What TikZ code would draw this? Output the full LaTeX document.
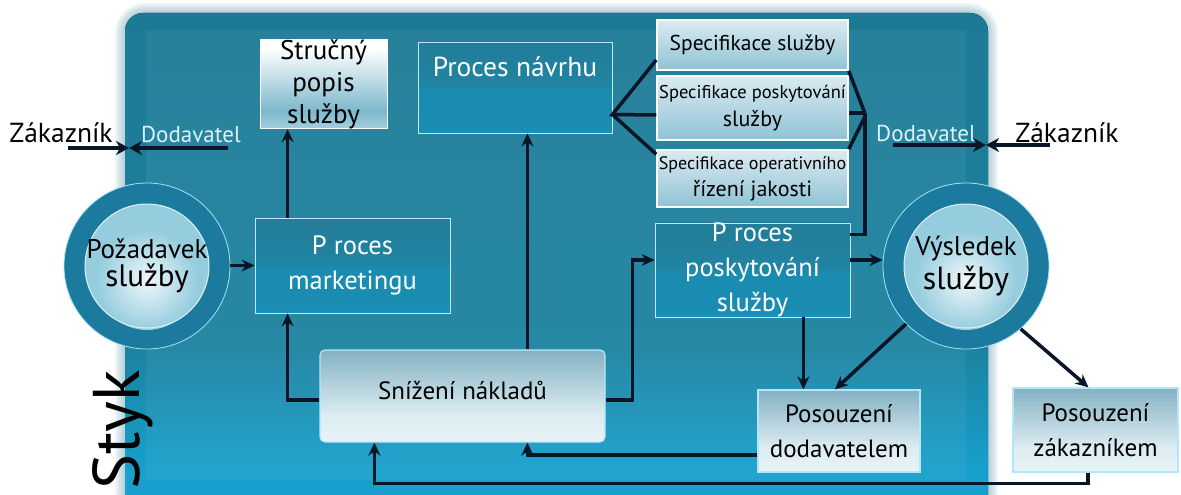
\documentclass[tikz,border=0pt]{standalone}
\usepackage{fontspec}
\setmainfont{PT Sans}
\usetikzlibrary{arrows.meta,shadings}
\definecolor{panTop}{RGB}{30,116,140}
\definecolor{panMid}{RGB}{28,130,160}
\definecolor{panBot}{RGB}{22,165,212}
\definecolor{boxTop}{RGB}{38,118,142}
\definecolor{boxMid}{RGB}{32,132,162}
\definecolor{boxLow}{RGB}{26,140,178}
\definecolor{boxBot}{RGB}{30,170,215}
\definecolor{arrowc}{RGB}{10,22,40}
\definecolor{ringc}{RGB}{28,122,158}
\definecolor{diskc}{RGB}{150,205,222}
\definecolor{lightteal}{RGB}{80,160,188}
\definecolor{dodc}{RGB}{220,242,250}
\pgfdeclareverticalshading{tealsh}{100bp}{color(0bp)=(boxBot); color(30bp)=(boxLow); color(49bp)=(boxLow); color(51bp)=(boxMid); color(100bp)=(boxTop)}
\pgfdeclareverticalshading{strucsh}{100bp}{color(0bp)=(white); color(12bp)=(white!80!lightteal); color(35bp)=(lightteal!75!white); color(70bp)=(white); color(100bp)=(white)}
\pgfdeclareverticalshading{specsh}{100bp}{color(0bp)=(lightteal!85!white); color(35bp)=(lightteal!55!white); color(100bp)=(white)}
\pgfdeclareverticalshading{lowsh}{100bp}{color(0bp)=(white); color(40bp)=(white!80!lightteal); color(100bp)=(lightteal!85!black)}
\pgfdeclareverticalshading{panelsh}{100bp}{color(0bp)=(panBot); color(30bp)=(panBot!85!panMid); color(42bp)=(panMid); color(100bp)=(panTop)}
\tikzset{
  arr/.style={draw=arrowc, line width=3.5pt, -{Stealth[length=13pt,width=12pt]}},
  arrx/.style={draw=arrowc, line width=3.2pt, -{Stealth[length=13pt,width=14pt]}},
  ln/.style={draw=arrowc, line width=3.5pt},
  tealbox/.style={rectangle, draw=cyan!25!white, line width=0.8pt, shading=tealsh, text=white, align=center, inner sep=0pt},
  specbox/.style={rectangle, draw=white, line width=1.5pt, shading=specsh, text=black, align=center, inner sep=0pt},
  strucbox/.style={rectangle, draw=white, line width=1pt, shading=strucsh, text=black, align=center, inner sep=0pt},
  lowbox/.style={rectangle, draw=white!70!cyan, line width=1.2pt, shading=lowsh, text=black, align=center, inner sep=0pt},
  ringnode/.style={circle, fill=ringc, draw=cyan!35!white, line width=0.8pt, minimum size=166pt, inner sep=0pt, align=center, text=black,
    path picture={\fill[diskc] (path picture bounding box.center) circle (62pt);
      \shade[inner color=white!85!diskc, outer color=diskc] ([yshift=-14pt]path picture bounding box.center) circle (50pt);
      \draw[white!70!diskc, line width=1pt] (path picture bounding box.center) circle (62pt);}},
  lbl/.style={inner sep=0pt, font=\fontsize{27.5}{30}\selectfont},
}
\begin{document}
\begin{tikzpicture}[x=1pt,y=-1pt]
\useasboundingbox (0,0) rectangle (1181,495);
\begin{scope}
\clip (0,0) rectangle (1181,495);
\foreach \w in {20,16,12,8,4}{
  \draw[panTop, opacity=0.07, line width=\w pt, rounded corners=20pt] (125,13) rectangle (988,520);
}
\fill[shading=panelsh, rounded corners=18pt] (125,13) rectangle (988,520);
\fill[white, opacity=0.05] (146,30) rectangle (966,480);
\end{scope}

% nodes
\node[strucbox, minimum width=127pt, minimum height=88pt, font=\fontsize{27}{32}\selectfont] (struc) at (323.5,84) {Stručný\\popis\\služby};
\node[tealbox, minimum width=194pt, minimum height=91pt, text depth=42pt, font=\fontsize{27.5}{30}\selectfont] (navrh) at (515,87.5) {Proces návrhu};
\node[specbox, minimum width=191pt, minimum height=50pt, font=\fontsize{21.5}{24}\selectfont] (spec1) at (752.5,45) {Specifikace služby};
\node[specbox, minimum width=191pt, minimum height=64pt, font=\fontsize{18.5}{28}\selectfont] (spec2) at (752.5,108) {Specifikace poskytování\\{\fontsize{22}{28}\selectfont služby}};
\node[specbox, minimum width=191pt, minimum height=57pt, font=\fontsize{18}{27}\selectfont] (spec3) at (752.5,178.5) {Specifikace operativního\\{\fontsize{22}{27}\selectfont řízení jakosti}};
\node[tealbox, minimum width=195pt, minimum height=95pt, font=\fontsize{26.5}{35}\selectfont] (mkt) at (352.5,265.5) {P roces\\marketingu};
\node[tealbox, minimum width=195pt, minimum height=94pt, font=\fontsize{26.5}{35}\selectfont] (posk) at (752.5,270) {P roces\\poskytování\\služby};
\node[lowbox, rounded corners=5pt, minimum width=285pt, minimum height=92pt, text depth=12pt, font=\fontsize{25}{28}\selectfont] (sniz) at (462.5,396) {Snížení nákladů};
\node[lowbox, minimum width=162pt, minimum height=82pt, font=\fontsize{25}{35}\selectfont] (dod) at (839,431) {Posouzení\\dodavatelem};
\node[lowbox, minimum width=165pt, minimum height=84pt, font=\fontsize{25}{35}\selectfont] (zak) at (1095.5,430) {Posouzení\\zákazníkem};
\node[ringnode] (poz) at (147,266) {{\fontsize{27}{30}\selectfont Požadavek}\\[4pt]{\fontsize{31}{34}\selectfont služby}};
\node[ringnode] (vys) at (966,266) {{\fontsize{27}{30}\selectfont Výsledek}\\[4pt]{\fontsize{32}{34}\selectfont služby}};

% labels
\node[lbl] (zL) at (61,133) {Zákazník};
\node[lbl, text=dodc, font=\fontsize{23}{26}\selectfont] (dL) at (191,134) {Dodavatel};
\node[lbl, text=dodc, font=\fontsize{23}{26}\selectfont] (dR) at (926,133) {Dodavatel};
\node[lbl] (zR) at (1067,133) {Zákazník};
\node[inner sep=0pt, rotate=90, font=\fontsize{66}{66}\selectfont] (styk) at (123,430) {Styk};

% customer / supplier arrows
\coordinate (lA) at (68,148);
\coordinate (lB) at (228,148);
\coordinate (lM) at (129,148);
\draw[arrx] (lA) -- (lM);
\draw[arrx] (lB) -- (lM);
\coordinate (rA) at (893,145);
\coordinate (rB) at (1050,145);
\coordinate (rM) at (986,145);
\draw[arrx] (rA) -- (rM);
\draw[arrx] (rB) -- (rM);

% connectors
\draw[arr] (poz.east |- mkt.west) -- (mkt.west);
\draw[arr] ([xshift=33pt]mkt.north west) -- ([xshift=33pt]mkt.north west |- struc.south);
\draw[arr] ([yshift=-4pt]sniz.west) -| ([xshift=33pt]mkt.south west);
\draw[arr] ([xshift=208pt]sniz.north west) -- ([xshift=208pt]sniz.north west |- navrh.south);
\draw[arr] ([yshift=-4pt]sniz.east) -- ++(27,0) |- ([yshift=10pt]posk.west);
\draw[arr] ([yshift=10pt]posk.east) -- ([yshift=10pt]posk.east -| vys.west);
\draw[arr] ([xshift=-47pt]posk.south east) -- ([xshift=-47pt]posk.south east |- dod.north);
\draw[arr] (vys.224) -- ([xshift=-4pt]dod.north);
\draw[arr] (vys.-49) -- ([xshift=-7pt]zak.north);
\draw[arr] ([xshift=-7.5pt]zak.south) -- ++(0,11) -| ([xshift=55pt]sniz.south west);
\draw[arr] ([yshift=-24pt]dod.west) -| ([xshift=208pt]sniz.south west);

% design fan and bracket
\coordinate (fan) at ([yshift=-27pt]navrh.east);
\draw[ln] (spec1.south west |- 0,60) -- (fan) -- ([yshift=-7pt]spec2.west);
\draw[ln] (fan) -- ([yshift=-5pt]spec3.north west);
\coordinate (br) at ([xshift=16pt,yshift=-5pt]spec2.east);
\draw[ln] (spec1.south east) -- (br);
\draw[ln] ([yshift=-5pt]spec2.east) -- (br);
\draw[ln] (spec3.north east) -- ([yshift=-4pt]br);
\draw[ln] (br) |- ([yshift=-12pt]posk.north east);
\end{tikzpicture}
\end{document}
